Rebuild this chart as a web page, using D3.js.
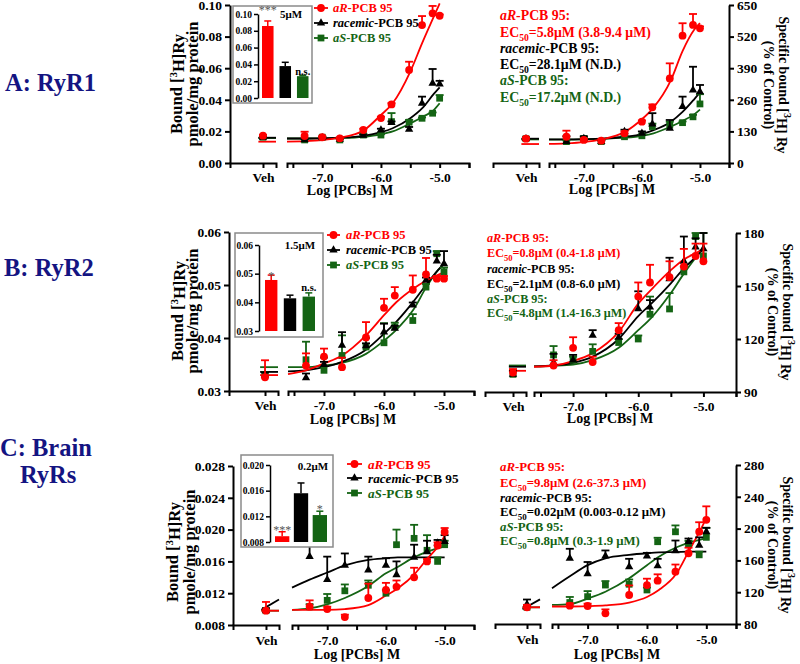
<!DOCTYPE html>
<html><head><meta charset="utf-8">
<script src="https://cdn.jsdelivr.net/npm/d3@7"></script>
<style>
body{margin:0;background:#fff}
svg{display:block}
text{font-family:"Liberation Serif","Times New Roman",serif;font-weight:bold}
</style>
</head><body>
<svg id="c" width="800" height="664"></svg>
<script>
// ---------------- DATA ----------------
const conc = [-7.3, -7.0, -6.7, -6.3, -6.0, -5.82, -5.52, -5.3, -5.12, -5.0];
const curveX = [-7.6, -7.3, -7.0, -6.7, -6.3, -6.0, -5.8, -5.5, -5.3, -5.1, -5.0];
const seriesNames = ["aR", "racemic", "aS"];
const seriesColors = ["#ff0000", "#000000", "#146414"];
const rowLabels = ["A: RyR1", "B: RyR2", "C: Brain", "RyRs"];
const xTickValues = [-7.5, -7.0, -6.5, -6.0, -5.5, -5.0, -4.5];

// A: RyR1, left (pmole/mg protein)
const aL_veh = [0.0173, 0.0163, 0.0163];
const aL_vehErr = [0.0005, 0.0005, 0.0005];
const aL_R = [0.0171, 0.0163, 0.0156, 0.0209, 0.0285, 0.0371, 0.0589, 0.0873, 0.0947, 0.0932];
const aL_R_err = [0.0027, 0.0005, 0.0005, 0.0008, 0.0008, 0.0008, 0.0052, 0.0057, 0.0047, 0.0008];
const aL_Rac = [0.0146, 0.0160, 0.0150, 0.0175, 0.0209, 0.0255, 0.0213, 0.0378, 0.0504, 0.0500];
const aL_Rac_err = [0.0005, 0.0005, 0.0005, 0.0005, 0.0008, 0.0008, 0.0015, 0.0042, 0.0091, 0.0020];
const aL_S = [0.0146, 0.0163, 0.0146, 0.0177, 0.0177, 0.0262, 0.0258, 0.0283, 0.0315, 0.0410];
const aL_S_err = [0.0005, 0.0005, 0.0005, 0.0005, 0.0005, 0.0054, 0.0015, 0.0005, 0.0005, 0.0020];
const aL_R_fit = [0.0135, 0.0138, 0.0145, 0.0160, 0.0205, 0.0304, 0.0378, 0.0578, 0.0757, 0.0926, 0.1010];
const aL_Rac_fit = [0.0155, 0.0155, 0.0157, 0.0160, 0.0172, 0.0195, 0.0220, 0.0283, 0.0345, 0.0437, 0.0479];
const aL_S_fit = [0.0155, 0.0155, 0.0156, 0.0158, 0.0166, 0.0182, 0.0200, 0.0251, 0.0290, 0.0335, 0.0378];
const aL_vehFit = [[0.0135, 0.0135], [0.0160, 0.0160], [0.0158, 0.0158]];

// A: RyR1, right (% of control)
const aR_veh = [100, 100, 100];
const aR_vehErr = [5, 5, 5];
const aR_R = [108, 95, 92, 122, 170, 229, 348, 524, 568, 554];
const aR_R_err = [25, 5, 5, 8, 5, 12, 62, 51, 45, 8];
const aR_Rac = [88, 101, 88, 129, 122, 160, 143, 232, 300, 293];
const aR_Rac_err = [22, 9, 5, 8, 8, 45, 34, 41, 96, 28];
const aR_S = [88, 101, 88, 108, 112, 150, 156, 166, 190, 243];
const aR_S_err = [5, 5, 5, 5, 5, 12, 14, 5, 8, 40];
const aR_R_fit = [79, 81, 86, 97, 127, 180, 228, 341, 460, 548, 575];
const aR_Rac_fit = [97, 97, 98, 100, 108, 119, 135, 170, 210, 262, 290];
const aR_S_fit = [96, 96, 97, 99, 104, 112, 122, 150, 173, 200, 220];
const aR_vehFit = [[78, 78], [100, 100], [97, 97]];

// B: RyR2, left
const bL_veh = [0.0326, 0.0330, 0.0330];
const bL_vehErr = [0.0032, 0.0005, 0.0005];
const bL_R = [0.0348, 0.0365, 0.0345, 0.0401, 0.0457, 0.0480, 0.0491, 0.0520, 0.0512, 0.0512];
const bL_R_err = [0.0023, 0.0015, 0.0018, 0.0029, 0.0017, 0.0016, 0.0027, 0.0031, 0.0005, 0.0005];
const bL_Rac = [0.0325, 0.0350, 0.0386, 0.0385, 0.0411, 0.0418, 0.0462, 0.0509, 0.0545, 0.0540];
const bL_Rac_err = [0.0008, 0.0005, 0.0025, 0.0005, 0.0016, 0.0005, 0.0005, 0.0005, 0.0012, 0.0024];
const bL_S = [0.0359, 0.0339, 0.0367, 0.0383, 0.0391, 0.0421, 0.0433, 0.0496, 0.0559, 0.0525];
const bL_S_err = [0.0034, 0.0024, 0.0038, 0.0017, 0.0037, 0.0008, 0.0012, 0.0006, 0.0005, 0.0008];
const bL_R_fit = [0.0332, 0.0339, 0.0352, 0.0367, 0.0405, 0.0443, 0.0467, 0.0494, 0.0508, 0.0519, 0.0524];
const bL_Rac_fit = [0.0337, 0.0339, 0.0345, 0.0355, 0.0378, 0.0408, 0.0430, 0.0470, 0.0500, 0.0528, 0.0540];
const bL_S_fit = [0.0345, 0.0345, 0.0348, 0.0353, 0.0370, 0.0395, 0.0415, 0.0455, 0.0495, 0.0528, 0.0540];
const bL_vehFit = [[0.0330, 0.0330], [0.0336, 0.0336], [0.0345, 0.0345]];

// B: RyR2, right
const bR_veh = [101, 100, 100];
const bR_vehErr = [2, 2, 2];
const bR_R = [105, 115, 107, 125, 144, 152, 155, 161, 167, 164];
const bR_R_err = [3, 6, 3, 4, 8, 10, 9, 10, 7, 10];
const bR_Rac = [106.6, 108, 122, 121, 137, 138, 154, 164, 172, 171];
const bR_Rac_err = [5, 3, 3, 2, 10, 4, 12, 14, 5, 9];
const bR_S = [111, 108, 113, 118, 120, 134, 137, 158, 178, 167];
const bR_S_err = [5, 2, 4, 2, 2, 10, 9, 3, 2, 13];
const bR_R_fit = [104.3, 105, 107.5, 112, 124, 140, 148, 159, 165, 169, 171];
const bR_Rac_fit = [104.5, 105, 106.5, 110, 120, 133, 140, 151.5, 160, 167, 171];
const bR_S_fit = [104.5, 104.8, 105.5, 108, 115, 125, 132, 146, 157, 167, 172];
const bR_vehFit = [[102, 102], [104.3, 104.3], [105, 105]];

// C: Brain RyRs, left
const cL_veh = [0.0098, 0.0098, 0.0098];
const cL_vehErr = [0.0011, 0.0003, 0.0003];
const cL_R = [0.0103, 0.0100, 0.0090, 0.0114, 0.0124, 0.0128, 0.0140, 0.0160, 0.0180, 0.0197];
const cL_R_err = [0.0008, 0.0003, 0.0003, 0.0018, 0.0009, 0.0008, 0.0012, 0.0003, 0.0004, 0.0005];
const cL_Rac = [0.0166, 0.0137, 0.0155, 0.0149, 0.0155, 0.0143, 0.0165, 0.0172, 0.0183, 0.0185];
const cL_Rac_err = [0.0023, 0.0029, 0.0015, 0.0017, 0.0009, 0.0017, 0.0016, 0.0014, 0.0004, 0.0008];
const cL_S = [0.0103, 0.0111, 0.0123, 0.0130, 0.0120, 0.0181, 0.0189, 0.0174, 0.0160, 0.0181];
const cL_S_err = [0.0003, 0.0008, 0.0008, 0.0006, 0.0004, 0.0019, 0.0017, 0.0019, 0.0005, 0.0005];
const cL_R_fit = [0.0099, 0.0099, 0.0099, 0.0100, 0.0105, 0.0117, 0.0126, 0.0145, 0.0163, 0.0180, 0.0192];
const cL_Rac_fit = [0.0127, 0.0137, 0.0146, 0.0155, 0.0162, 0.0164, 0.0165, 0.0165, 0.0165, 0.0165, 0.0165];
const cL_S_fit = [0.0099, 0.0101, 0.0106, 0.0114, 0.0129, 0.0145, 0.0153, 0.0166, 0.0172, 0.0177, 0.0179];
const cL_vehFit = [[0.0098, 0.0098], [0.0099, 0.0112], [0.0098, 0.0098]];

// C: Brain RyRs, right
const cR_veh = [101, 104.8, 101];
const cR_vehErr = [3, 6, 3];
const cR_R = [103, 102.6, 93.4, 116.5, 129, 134.5, 145.8, 169, 196, 211];
const cR_R_err = [3, 3, 5, 12, 8, 8, 9, 7, 12, 17];
const cR_Rac = [162.6, 143, 165.5, 152, 165.5, 153, 172, 183.5, 179, 196];
const cR_Rac_err = [12, 15, 7, 10, 4, 9, 13, 4, 10, 5];
const cR_S = [107, 114.4, 129, 130, 122.8, 183.5, 196, 180.6, 167, 189];
const cR_S_err = [7, 7, 5, 6, 3, 5, 8, 4, 4, 12];
const cR_R_fit = [102, 102, 102.5, 103.5, 107, 114, 122.8, 143.8, 171, 198, 213];
const cR_Rac_fit = [125, 140, 154, 162.6, 167, 169, 170, 170.5, 171, 171, 171];
const cR_S_fit = [104, 105, 112, 120.6, 137.5, 154, 164.7, 176.5, 182, 186, 188];
const cR_vehFit = [[101, 101], [98.5, 111], [101, 101]];

// Insets (bar charts)
const insetA = [0.0857, 0.038, 0.026];
const insetA_err = [0.006, 0.0045, 0.001];
const insetB = [0.0478, 0.0414, 0.0420];
const insetB_err = [0.0017, 0.0011, 0.0013];
const insetC = [0.0089, 0.0156, 0.0122];
const insetC_err = [0.0007, 0.0016, 0.0006];
const insetSigA = ["***", "", "n.s."];
const insetSigB = ["*", "", "n.s."];
const insetSigC = ["***", "", "*"];

// EC50 annotations
const ecA = ["EC|50|=5.8μM (3.8-9.4 μM)", "EC|50|=28.1μM (N.D.)", "EC|50|=17.2μM (N.D.)"];
const ecB = ["EC|50|=0.8μM (0.4-1.8 μM)", "EC|50|=2.1μM (0.8-6.0 μM)", "EC|50|=4.8μM (1.4-16.3 μM)"];
const ecC = ["EC|50|=9.8μM (2.6-37.3 μM)", "EC|50|=0.02μM (0.003-0.12 μM)", "EC|50|=0.8μM (0.3-1.9 μM)"];

// ---------------- DRAW ----------------
const svg = d3.select("#c");
const symbols = [d3.symbolCircle, d3.symbolTriangle, d3.symbolSquare];
const symSizes = [48, 30, 46];

function styleAxis(sel, fs) {
  sel.attr("font-family", null).attr("font-size", null);
  sel.selectAll("path.domain").attr("stroke", "#000").attr("stroke-width", 2);
  sel.selectAll(".tick line").attr("stroke", "#000").attr("stroke-width", 2);
  sel.selectAll(".tick text").attr("fill", "#000").style("font-size", fs + "px");
}

function seriesLabel(sel, name, suffix) {
  sel.append("tspan").attr("font-style", "italic").text(name);
  sel.append("tspan").text("-PCB 95" + suffix);
}

function ecLabel(sel, str, fs) {
  const parts = str.split("|");
  sel.append("tspan").text(parts[0]);
  sel.append("tspan").attr("dy", 4).style("font-size", (fs * 0.7) + "px").text(parts[1]);
  sel.append("tspan").attr("dy", -4).text(parts[2]);
}

function panel(p) {
  const g = svg.append("g");
  const x = d3.scaleLinear().domain([-7.6, -4.5]).range(p.xRange);
  const xv = d3.scaleLinear().domain([0, 1]).range(p.vehRange);
  const y = d3.scaleLinear().domain(p.yDomain).range(p.yRange);

  const axM = g.append("g").attr("transform", `translate(0,${p.axisY})`)
    .call(d3.axisBottom(x).tickValues(xTickValues).tickSize(5).tickSizeOuter(5).tickPadding(p.xPad)
      .tickFormat(d => Number.isInteger(d) ? d.toFixed(1) : ""));
  styleAxis(axM, 13.5);
  const axV = g.append("g").attr("transform", `translate(0,${p.axisY})`)
    .call(d3.axisBottom(xv).tickValues([p.vehAt]).tickSize(5).tickSizeOuter(5).tickPadding(p.xPad)
      .tickFormat(() => "Veh"));
  styleAxis(axV, 13.5);
  const yAx = (p.side === "left" ? d3.axisLeft(y) : d3.axisRight(y))
    .tickValues(p.yTicks).tickFormat(p.fmt).tickSize(5).tickSizeOuter(0).tickPadding(3);
  const axY = g.append("g").attr("transform", `translate(${p.yAxisX},0)`).call(yAx);
  styleAxis(axY, 13.5);

  g.append("text").attr("x", p.xTitle[0]).attr("y", p.xTitle[1]).attr("text-anchor", "middle")
    .style("font-size", "14px").text("Log [PCBs] M");

  if (p.side === "left") {
    const t1 = g.append("text").attr("transform", `translate(${p.yTitle[0]},${p.yTitle[2]}) rotate(-90)`)
      .attr("text-anchor", "middle").attr("dy", "0.35em").style("font-size", "16.5px");
    t1.append("tspan").text("Bound [");
    t1.append("tspan").attr("dy", "-0.45em").style("font-size", "11px").text("3");
    t1.append("tspan").attr("dy", "0.45em").text("H]Ry");
    g.append("text").attr("transform", `translate(${p.yTitle[1]},${p.yTitle[2]}) rotate(-90)`)
      .attr("text-anchor", "middle").attr("dy", "0.35em").style("font-size", "16.5px").text("pmole/mg protein");
  } else {
    const t1 = g.append("text").attr("transform", `translate(${p.yTitle[0]},${p.yTitle[2]}) rotate(90)`)
      .attr("text-anchor", "middle").attr("dy", "0.35em").style("font-size", "14px");
    t1.append("tspan").text("Specific bound [");
    t1.append("tspan").attr("dy", "-0.45em").style("font-size", "10px").text("3");
    t1.append("tspan").attr("dy", "0.45em").text("H] Ry");
    g.append("text").attr("transform", `translate(${p.yTitle[1]},${p.yTitle[2]}) rotate(90)`)
      .attr("text-anchor", "middle").attr("dy", "0.35em").style("font-size", "14px").text("(% of Control)");
  }

  const line = d3.line().x(d => x(d[0])).y(d => y(d[1])).curve(d3.curveMonotoneX);
  const vline = d3.line().x(d => xv(d[0])).y(d => y(d[1]));
  const order = [2, 1, 0];
  order.forEach(i => {
    const s = p.series[i];
    g.append("path").attr("d", line(curveX.map((cx, k) => [cx, s.fit[k]])))
      .attr("fill", "none").attr("stroke", seriesColors[i]).attr("stroke-width", 1.8);
    g.append("path").attr("d", vline([[p.vehAt - 0.1, p.vehFit[i][0]], [1, p.vehFit[i][1]]]))
      .attr("fill", "none").attr("stroke", seriesColors[i]).attr("stroke-width", 1.8);
  });
  order.forEach(i => {
    const s = p.series[i];
    const pts = [{px: xv(p.vehAt), v: p.veh[i], e: p.vehErr[i]}]
      .concat(conc.map((c, k) => ({px: x(c), v: s.mean[k], e: s.err[k]})));
    const eg = g.append("g").attr("stroke", seriesColors[i]).attr("stroke-width", 1.8);
    pts.forEach(d => {
      const y0 = y(d.v), y1 = y(d.v + d.e);
      eg.append("line").attr("x1", d.px).attr("x2", d.px).attr("y1", y0).attr("y2", y1);
      eg.append("line").attr("x1", d.px - 4).attr("x2", d.px + 4).attr("y1", y1).attr("y2", y1);
    });
    g.append("g").selectAll("path").data(pts).join("path")
      .attr("transform", d => `translate(${d.px},${y(d.v)})`)
      .attr("d", d3.symbol(symbols[i], symSizes[i]))
      .attr("fill", seriesColors[i]);
  });
}

function legend(l) {
  const g = svg.append("g");
  seriesNames.forEach((n, i) => {
    const yy = l.ys[i];
    g.append("line").attr("x1", l.x0).attr("x2", l.x1).attr("y1", yy).attr("y2", yy)
      .attr("stroke", seriesColors[i]).attr("stroke-width", 1.8);
    g.append("path").attr("transform", `translate(${(l.x0 + l.x1) / 2},${yy})`)
      .attr("d", d3.symbol(symbols[i], symSizes[i])).attr("fill", seriesColors[i]);
    const t = g.append("text").attr("x", l.tx).attr("y", yy).attr("dy", "0.35em")
      .attr("fill", seriesColors[i]).style("font-size", l.fs + "px");
    seriesLabel(t, n, "");
  });
}

function annot(a) {
  const g = svg.append("g");
  seriesNames.forEach((n, i) => {
    const t1 = g.append("text").attr("x", a.x).attr("y", a.ys[2 * i]).attr("fill", seriesColors[i]).style("font-size", a.fs + "px");
    seriesLabel(t1, n, ":");
    const t2 = g.append("text").attr("x", a.x).attr("y", a.ys[2 * i + 1]).attr("fill", seriesColors[i]).style("font-size", a.fs + "px");
    ecLabel(t2, a.ec[i], a.fs);
  });
}

function inset(c) {
  const g = svg.append("g");
  g.append("rect").attr("x", c.box[0]).attr("y", c.box[1]).attr("width", c.box[2]).attr("height", c.box[3])
    .attr("fill", "#fff").attr("stroke", "#8a8a8a").attr("stroke-width", 1.5);
  const y = d3.scaleLinear().domain(c.domain).range(c.yRange);
  const xb = d3.scaleBand().domain(seriesNames).range(c.band).paddingInner(c.pad).paddingOuter(0);
  const ax = g.append("g").attr("transform", `translate(${c.axisX},0)`)
    .call(d3.axisLeft(y).tickValues(c.ticks).tickFormat(c.fmt).tickSize(4).tickSizeOuter(0).tickPadding(2));
  styleAxis(ax, 9.5);
  ax.selectAll("path.domain").attr("stroke-width", 1.5);
  ax.selectAll(".tick line").attr("stroke-width", 1.5);
  seriesNames.forEach((n, i) => {
    const bx = xb(n), bw = xb.bandwidth(), cx = bx + bw / 2;
    const yt = y(c.vals[i] + c.errs[i]);
    g.append("line").attr("x1", cx).attr("x2", cx).attr("y1", y(c.vals[i])).attr("y2", yt)
      .attr("stroke", seriesColors[i]).attr("stroke-width", 1.5);
    g.append("line").attr("x1", cx - 3.5).attr("x2", cx + 3.5).attr("y1", yt).attr("y2", yt)
      .attr("stroke", seriesColors[i]).attr("stroke-width", 1.5);
    g.append("rect").attr("x", bx).attr("y", y(c.vals[i])).attr("width", bw)
      .attr("height", y(c.domain[0]) - y(c.vals[i])).attr("fill", seriesColors[i]);
    if (c.sig[i]) {
      const isStar = c.sig[i].indexOf("*") >= 0;
      g.append("text").attr("x", cx).attr("y", c.sigY[i]).attr("text-anchor", "middle")
        .attr("fill", isStar ? "#555" : "#000")
        .style("font-weight", isStar ? "normal" : "bold")
        .style("font-size", isStar ? "12px" : "10.5px").text(c.sig[i]);
    }
  });
  g.append("text").attr("x", c.label[0]).attr("y", c.label[1]).attr("text-anchor", "middle")
    .attr("dy", "0.35em").style("font-size", "11px").text(c.labelText);
}

// Row labels
const rowPos = [[5, 91], [4, 276], [0, 456], [20, 483]];
rowLabels.forEach((t, i) => {
  svg.append("text").attr("x", rowPos[i][0]).attr("y", rowPos[i][1]).attr("fill", "#141482")
    .style("font-size", "24.5px").text(t);
});

const fmt2 = d3.format(".2f"), fmt3 = d3.format(".3f"), fmt0 = d3.format("d");

panel({xRange: [287, 469], vehRange: [230, 276], vehAt: 0.717, axisY: 163, xPad: 4,
  yDomain: [0, 0.10], yRange: [163, 5], yTicks: [0, 0.02, 0.04, 0.06, 0.08, 0.10], fmt: fmt2,
  side: "left", yAxisX: 230, xTitle: [350, 195], yTitle: [176, 192, 84],
  veh: aL_veh, vehErr: aL_vehErr, vehFit: aL_vehFit,
  series: [{mean: aL_R, err: aL_R_err, fit: aL_R_fit}, {mean: aL_Rac, err: aL_Rac_err, fit: aL_Rac_fit}, {mean: aL_S, err: aL_S_err, fit: aL_S_fit}]});
panel({xRange: [549, 729], vehRange: [493, 539], vehAt: 0.717, axisY: 163, xPad: 4,
  yDomain: [0, 650], yRange: [163, 5], yTicks: [0, 130, 260, 390, 520, 650], fmt: fmt0,
  side: "right", yAxisX: 729, xTitle: [612, 194], yTitle: [784, 769, 85],
  veh: aR_veh, vehErr: aR_vehErr, vehFit: aR_vehFit,
  series: [{mean: aR_R, err: aR_R_err, fit: aR_R_fit}, {mean: aR_Rac, err: aR_Rac_err, fit: aR_Rac_fit}, {mean: aR_S, err: aR_S_err, fit: aR_S_fit}]});
panel({xRange: [288, 474], vehRange: [229, 278], vehAt: 0.735, axisY: 391, xPad: 4,
  yDomain: [0.03, 0.06], yRange: [391, 232], yTicks: [0.03, 0.04, 0.05, 0.06], fmt: fmt2,
  side: "left", yAxisX: 229, xTitle: [353, 424], yTitle: [177, 192, 311],
  veh: bL_veh, vehErr: bL_vehErr, vehFit: bL_vehFit,
  series: [{mean: bL_R, err: bL_R_err, fit: bL_R_fit}, {mean: bL_Rac, err: bL_Rac_err, fit: bL_Rac_fit}, {mean: bL_S, err: bL_S_err, fit: bL_S_fit}]});
panel({xRange: [534, 736], vehRange: [485, 526], vehAt: 0.683, axisY: 392, xPad: 4,
  yDomain: [90, 180], yRange: [392, 233], yTicks: [90, 120, 150, 180], fmt: fmt0,
  side: "right", yAxisX: 736, xTitle: [610, 423], yTitle: [788, 773, 312],
  veh: bR_veh, vehErr: bR_vehErr, vehFit: bR_vehFit,
  series: [{mean: bR_R, err: bR_R_err, fit: bR_R_fit}, {mean: bR_Rac, err: bR_Rac_err, fit: bR_Rac_fit}, {mean: bR_S, err: bR_S_err, fit: bR_S_fit}]});
panel({xRange: [292, 474], vehRange: [233, 279], vehAt: 0.717, axisY: 625, xPad: 5,
  yDomain: [0.008, 0.028], yRange: [625, 466], yTicks: [0.008, 0.012, 0.016, 0.020, 0.024, 0.028], fmt: fmt3,
  side: "left", yAxisX: 233, xTitle: [357, 659], yTitle: [172, 189, 552],
  veh: cL_veh, vehErr: cL_vehErr, vehFit: cL_vehFit,
  series: [{mean: cL_R, err: cL_R_err, fit: cL_R_fit}, {mean: cL_Rac, err: cL_Rac_err, fit: cL_Rac_fit}, {mean: cL_S, err: cL_S_err, fit: cL_S_fit}]});
panel({xRange: [552, 736], vehRange: [495, 540], vehAt: 0.711, axisY: 624, xPad: 5,
  yDomain: [80, 280], yRange: [624, 465], yTicks: [80, 120, 160, 200, 240, 280], fmt: fmt0,
  side: "right", yAxisX: 736, xTitle: [617, 659], yTitle: [788, 773, 545],
  veh: cR_veh, vehErr: cR_vehErr, vehFit: cR_vehFit,
  series: [{mean: cR_R, err: cR_R_err, fit: cR_R_fit}, {mean: cR_Rac, err: cR_Rac_err, fit: cR_Rac_fit}, {mean: cR_S, err: cR_S_err, fit: cR_S_fit}]});

inset({box: [233, 6, 79, 97], axisX: 258, yRange: [98, 14], domain: [0, 0.10], ticks: [0, 0.02, 0.04, 0.06, 0.08, 0.10],
  fmt: fmt2, band: [262, 308.5], pad: 0.34, vals: insetA, errs: insetA_err, sig: insetSigA, sigY: [14, 0, 74.5],
  label: [291, 14], labelText: "5μM"});
inset({box: [235, 233, 88, 104], axisX: 259, yRange: [331, 245], domain: [0.03, 0.06], ticks: [0.03, 0.04, 0.05, 0.06],
  fmt: fmt2, band: [265, 315], pad: 0.34, vals: insetB, errs: insetB_err, sig: insetSigB, sigY: [279.5, 0, 291],
  label: [300, 245], labelText: "1.5μM"});
inset({box: [241, 455, 92, 92], axisX: 270, yRange: [542, 465], domain: [0.008, 0.020], ticks: [0.008, 0.012, 0.016, 0.020],
  fmt: fmt3, band: [275, 327], pad: 0.24, vals: insetC, errs: insetC_err, sig: insetSigC, sigY: [533.5, 0, 513],
  label: [313, 466], labelText: "0.2μM"});

legend({x0: 314, x1: 328, tx: 333, ys: [8, 23, 38], fs: 12.5});
legend({x0: 327, x1: 340, tx: 346, ys: [235, 250, 265], fs: 12.5});
legend({x0: 347, x1: 362, tx: 368, ys: [464, 478, 493], fs: 13.2});

annot({x: 500, ys: [20, 37, 53, 69, 85, 102], ec: ecA, fs: 13.8});
annot({x: 487, ys: [242, 257, 273, 288, 303, 317], ec: ecB, fs: 12.2});
annot({x: 500, ys: [471, 487, 502, 516, 531, 545], ec: ecC, fs: 12.8});
</script>
</body></html>
